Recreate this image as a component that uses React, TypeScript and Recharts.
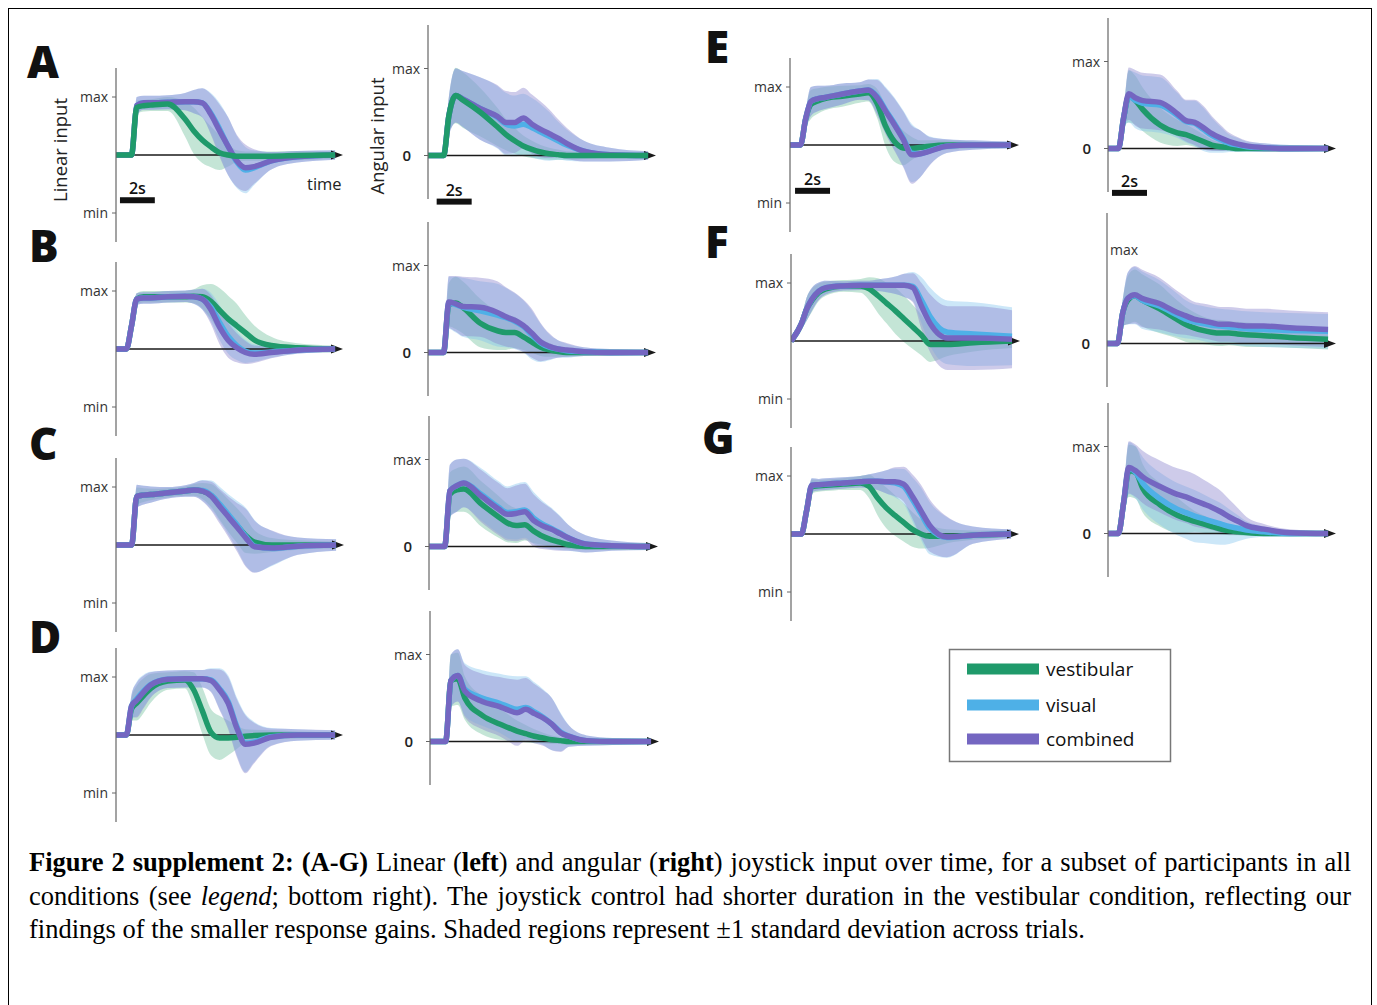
import React from 'react';
import { ComposedChart, Area, Line, XAxis, YAxis, ReferenceLine } from 'recharts';

// shared time grid (seconds)
const T = [0, 0.6, 0.9, 1.2, 1.6, 2, 3, 4, 4.5, 5, 5.5, 6, 6.5, 7, 7.5, 8, 9, 10.5, 12.7];

const SERIES_LABELS = ['vestibular', 'visual', 'combined'];
const PANEL_LETTERS = ['A', 'B', 'C', 'D', 'E', 'F', 'G'];

// ---- A ----
const A_LIN_VES = [0, 0, 0, 0.82, 0.85, 0.86, 0.88, 0.62, 0.42, 0.26, 0.14, 0.04, 0, -0.02, -0.02, -0.02, -0.02, -0.01, 0];
const A_LIN_VES_SD = [0.02, 0.02, 0.02, 0.12, 0.1, 0.1, 0.12, 0.3, 0.4, 0.4, 0.35, 0.3, 0.2, 0.1, 0.08, 0.08, 0.08, 0.08, 0.06];
const A_LIN_VIS = [0, 0, 0, 0.85, 0.9, 0.9, 0.91, 0.92, 0.92, 0.9, 0.72, 0.45, 0.15, -0.12, -0.26, -0.22, -0.1, -0.03, 0];
const A_LIN_COMB = [0, 0, 0, 0.85, 0.9, 0.9, 0.91, 0.92, 0.92, 0.9, 0.7, 0.42, 0.15, -0.1, -0.22, -0.2, -0.1, -0.03, 0];
const A_LIN_COMB_SD = [0.02, 0.02, 0.02, 0.15, 0.12, 0.12, 0.12, 0.15, 0.2, 0.25, 0.35, 0.45, 0.5, 0.45, 0.4, 0.3, 0.15, 0.1, 0.08];

const A_ANG_VES = [0, 0, 0, 0.45, 0.69, 0.64, 0.5, 0.33, 0.24, 0.17, 0.11, 0.07, 0.04, 0.02, 0.01, 0, 0, 0, 0];
const A_ANG_VES_SD = [0.02, 0.02, 0.03, 0.2, 0.32, 0.32, 0.28, 0.22, 0.18, 0.15, 0.12, 0.1, 0.08, 0.07, 0.06, 0.05, 0.04, 0.03, 0.03];
const A_ANG_VIS = [0, 0, 0, 0.45, 0.69, 0.65, 0.54, 0.44, 0.36, 0.34, 0.36, 0.32, 0.27, 0.22, 0.17, 0.12, 0.05, 0.01, 0];
const A_ANG_COMB = [0, 0, 0, 0.45, 0.69, 0.65, 0.54, 0.45, 0.38, 0.38, 0.43, 0.36, 0.3, 0.25, 0.2, 0.14, 0.05, 0.01, 0];
const A_ANG_COMB_SD = [0.02, 0.02, 0.03, 0.22, 0.31, 0.32, 0.36, 0.36, 0.36, 0.35, 0.35, 0.34, 0.32, 0.28, 0.22, 0.18, 0.12, 0.08, 0.05];

// ---- B ----
const B_LIN_VES = [0, 0, 0.4, 0.86, 0.9, 0.9, 0.9, 0.9, 0.91, 0.9, 0.82, 0.67, 0.52, 0.4, 0.28, 0.16, 0.06, 0.02, 0];
const B_LIN_VES_SD = [0.02, 0.02, 0.05, 0.1, 0.1, 0.1, 0.1, 0.1, 0.12, 0.2, 0.3, 0.38, 0.4, 0.38, 0.3, 0.25, 0.15, 0.08, 0.06];
const B_LIN_VIS = [0, 0, 0.4, 0.86, 0.88, 0.88, 0.9, 0.91, 0.9, 0.86, 0.72, 0.46, 0.22, 0.06, -0.04, -0.07, -0.05, -0.02, 0];
const B_LIN_COMB = [0, 0, 0.4, 0.86, 0.88, 0.88, 0.9, 0.91, 0.9, 0.86, 0.68, 0.38, 0.15, 0.02, -0.06, -0.09, -0.06, -0.02, 0];
const B_LIN_COMB_SD = [0.02, 0.02, 0.05, 0.1, 0.1, 0.1, 0.1, 0.1, 0.12, 0.18, 0.25, 0.3, 0.3, 0.25, 0.2, 0.15, 0.1, 0.06, 0.05];

const B_ANG_VES = [0, 0, 0, 0.55, 0.57, 0.52, 0.34, 0.25, 0.23, 0.23, 0.18, 0.12, 0.06, 0.03, 0.01, 0, 0, 0, 0];
const B_ANG_VES_SD = [0.02, 0.02, 0.03, 0.25, 0.3, 0.3, 0.28, 0.22, 0.2, 0.18, 0.15, 0.12, 0.1, 0.08, 0.06, 0.05, 0.04, 0.03, 0.03];
const B_ANG_VIS = [0, 0, 0, 0.57, 0.55, 0.52, 0.48, 0.43, 0.4, 0.36, 0.3, 0.2, 0.11, 0.06, 0.04, 0.02, 0.01, 0, 0];
const B_ANG_COMB = [0, 0, 0, 0.58, 0.56, 0.53, 0.52, 0.46, 0.41, 0.37, 0.31, 0.22, 0.12, 0.07, 0.04, 0.03, 0.01, 0, 0];
const B_ANG_COMB_SD = [0.02, 0.02, 0.03, 0.3, 0.32, 0.34, 0.34, 0.36, 0.34, 0.32, 0.3, 0.28, 0.22, 0.15, 0.1, 0.08, 0.05, 0.04, 0.03];

// ---- C ----
const C_LIN_VES = [0, 0, 0, 0.84, 0.86, 0.87, 0.9, 0.93, 0.95, 0.93, 0.85, 0.68, 0.5, 0.33, 0.16, 0.05, 0, 0, 0];
const C_LIN_VES_SD = [0.02, 0.02, 0.02, 0.15, 0.12, 0.1, 0.08, 0.08, 0.1, 0.14, 0.2, 0.25, 0.28, 0.3, 0.3, 0.2, 0.12, 0.08, 0.06];
const C_LIN_VIS = [0, 0, 0, 0.84, 0.86, 0.87, 0.9, 0.93, 0.95, 0.94, 0.86, 0.7, 0.52, 0.34, 0.14, -0.02, -0.06, -0.02, 0];
const C_LIN_COMB = [0, 0, 0, 0.84, 0.86, 0.87, 0.9, 0.93, 0.95, 0.93, 0.84, 0.66, 0.48, 0.3, 0.12, -0.03, -0.05, -0.02, 0];
const C_LIN_COMB_SD = [0.02, 0.02, 0.02, 0.2, 0.16, 0.14, 0.1, 0.1, 0.12, 0.18, 0.25, 0.3, 0.35, 0.42, 0.5, 0.45, 0.3, 0.15, 0.1];

const C_ANG_VES = [0, 0, 0, 0.6, 0.65, 0.66, 0.49, 0.34, 0.27, 0.24, 0.25, 0.18, 0.12, 0.08, 0.05, 0.02, 0, 0, 0];
const C_ANG_VES_SD = [0.02, 0.02, 0.03, 0.25, 0.25, 0.26, 0.26, 0.24, 0.22, 0.2, 0.18, 0.14, 0.1, 0.08, 0.06, 0.05, 0.04, 0.03, 0.03];
const C_ANG_VIS = [0, 0, 0, 0.64, 0.7, 0.73, 0.6, 0.45, 0.39, 0.4, 0.42, 0.33, 0.26, 0.21, 0.16, 0.1, 0.03, 0.01, 0];
const C_ANG_COMB = [0, 0, 0, 0.64, 0.7, 0.73, 0.58, 0.43, 0.37, 0.38, 0.4, 0.3, 0.24, 0.2, 0.15, 0.1, 0.03, 0.01, 0];
const C_ANG_COMB_SD = [0.02, 0.02, 0.03, 0.3, 0.3, 0.28, 0.3, 0.3, 0.3, 0.32, 0.32, 0.3, 0.27, 0.24, 0.2, 0.15, 0.1, 0.06, 0.04];

// ---- D ----
const D_LIN_VES = [0, 0, 0.45, 0.55, 0.68, 0.8, 0.93, 0.95, 0.78, 0.42, 0.05, -0.05, -0.05, -0.04, -0.02, -0.01, 0, 0, 0];
const D_LIN_VES_SD = [0.02, 0.02, 0.2, 0.3, 0.3, 0.25, 0.15, 0.15, 0.3, 0.4, 0.4, 0.38, 0.3, 0.2, 0.12, 0.1, 0.08, 0.06, 0.05];
const D_LIN_VIS = [0, 0, 0.5, 0.62, 0.76, 0.87, 0.96, 0.97, 0.97, 0.97, 0.95, 0.8, 0.58, 0.15, -0.14, -0.12, -0.03, 0, 0];
const D_LIN_COMB = [0, 0, 0.5, 0.6, 0.74, 0.86, 0.96, 0.97, 0.97, 0.97, 0.94, 0.78, 0.55, 0.12, -0.16, -0.14, -0.04, 0, 0];
const D_LIN_COMB_SD = [0.02, 0.02, 0.2, 0.3, 0.28, 0.22, 0.15, 0.15, 0.15, 0.15, 0.2, 0.35, 0.45, 0.5, 0.5, 0.35, 0.15, 0.1, 0.08];

const D_ANG_VES = [0, 0, 0, 0.7, 0.72, 0.5, 0.3, 0.2, 0.16, 0.12, 0.09, 0.06, 0.04, 0.02, 0.01, 0, 0, 0, 0];
const D_ANG_VES_SD = [0.02, 0.02, 0.03, 0.3, 0.3, 0.25, 0.22, 0.18, 0.15, 0.12, 0.1, 0.08, 0.06, 0.05, 0.04, 0.04, 0.03, 0.03, 0.03];
const D_ANG_VIS = [0, 0, 0, 0.7, 0.76, 0.6, 0.5, 0.44, 0.4, 0.37, 0.39, 0.34, 0.28, 0.2, 0.11, 0.06, 0.01, 0, 0];
const D_ANG_COMB = [0, 0, 0, 0.7, 0.76, 0.58, 0.46, 0.4, 0.36, 0.33, 0.37, 0.32, 0.27, 0.2, 0.1, 0.06, 0.01, 0, 0];
const D_ANG_COMB_SD = [0.02, 0.02, 0.03, 0.3, 0.3, 0.3, 0.32, 0.34, 0.36, 0.38, 0.36, 0.34, 0.32, 0.3, 0.22, 0.12, 0.06, 0.04, 0.03];

// ---- E ----
const E_LIN_VES = [0, 0, 0.45, 0.7, 0.76, 0.8, 0.84, 0.88, 0.9, 0.72, 0.32, 0.06, -0.05, -0.06, -0.04, -0.02, 0, 0, 0];
const E_LIN_VES_SD = [0.02, 0.02, 0.15, 0.25, 0.22, 0.2, 0.18, 0.15, 0.15, 0.25, 0.35, 0.35, 0.3, 0.2, 0.12, 0.1, 0.08, 0.06, 0.05];
const E_LIN_VIS = [0, 0, 0.45, 0.75, 0.8, 0.82, 0.88, 0.93, 0.95, 0.84, 0.6, 0.37, 0.12, -0.14, -0.15, -0.1, -0.02, 0, 0];
const E_LIN_COMB = [0, 0, 0.45, 0.75, 0.8, 0.82, 0.88, 0.93, 0.95, 0.82, 0.58, 0.35, 0.1, -0.17, -0.15, -0.11, -0.02, 0, 0];
const E_LIN_COMB_SD = [0.02, 0.02, 0.15, 0.25, 0.22, 0.2, 0.18, 0.15, 0.18, 0.3, 0.4, 0.45, 0.48, 0.5, 0.4, 0.25, 0.12, 0.08, 0.06];

const E_ANG_VES = [0, 0, 0.35, 0.6, 0.55, 0.45, 0.27, 0.18, 0.16, 0.12, 0.08, 0.04, 0.02, 0.01, 0, 0, 0, 0, 0];
const E_ANG_VES_SD = [0.02, 0.02, 0.1, 0.3, 0.28, 0.25, 0.2, 0.15, 0.12, 0.1, 0.08, 0.06, 0.05, 0.04, 0.04, 0.03, 0.03, 0.03, 0.03];
const E_ANG_VIS = [0, 0, 0.35, 0.6, 0.55, 0.52, 0.5, 0.38, 0.31, 0.29, 0.22, 0.15, 0.1, 0.06, 0.04, 0.02, 0.01, 0, 0];
const E_ANG_COMB = [0, 0, 0.35, 0.63, 0.58, 0.55, 0.53, 0.4, 0.32, 0.3, 0.24, 0.17, 0.12, 0.08, 0.05, 0.03, 0.01, 0, 0];
const E_ANG_COMB_SD = [0.02, 0.02, 0.1, 0.3, 0.32, 0.32, 0.32, 0.26, 0.24, 0.26, 0.25, 0.2, 0.15, 0.1, 0.08, 0.06, 0.05, 0.04, 0.03];

// ---- F ----
const F_LIN_VES = [0, 0.3, 0.55, 0.7, 0.84, 0.9, 0.95, 0.95, 0.9, 0.78, 0.65, 0.52, 0.38, 0.24, 0.1, -0.06, -0.06, -0.03, 0];
const F_LIN_VES_SD = [0.02, 0.1, 0.2, 0.2, 0.15, 0.12, 0.1, 0.12, 0.2, 0.3, 0.35, 0.4, 0.4, 0.38, 0.35, 0.3, 0.2, 0.15, 0.12];
const F_LIN_VIS = [0, 0.3, 0.55, 0.72, 0.86, 0.92, 0.95, 0.96, 0.96, 0.96, 0.96, 0.96, 0.96, 0.94, 0.7, 0.42, 0.15, 0.12, 0.08];
const F_LIN_COMB = [0, 0.3, 0.55, 0.72, 0.86, 0.92, 0.95, 0.96, 0.96, 0.96, 0.96, 0.96, 0.96, 0.92, 0.6, 0.3, 0.05, 0.05, 0.03];
const F_LIN_COMB_SD = [0.02, 0.1, 0.2, 0.2, 0.15, 0.12, 0.08, 0.08, 0.08, 0.1, 0.12, 0.15, 0.2, 0.25, 0.4, 0.5, 0.55, 0.55, 0.5];

const F_ANG_VES = [0, 0, 0.35, 0.5, 0.55, 0.5, 0.4, 0.28, 0.22, 0.18, 0.15, 0.13, 0.12, 0.12, 0.11, 0.1, 0.09, 0.07, 0.05];
const F_ANG_VES_SD = [0.02, 0.02, 0.15, 0.28, 0.3, 0.3, 0.28, 0.22, 0.2, 0.18, 0.16, 0.15, 0.15, 0.14, 0.14, 0.14, 0.13, 0.12, 0.12];
const F_ANG_VIS = [0, 0, 0.35, 0.52, 0.55, 0.5, 0.43, 0.33, 0.28, 0.25, 0.23, 0.21, 0.2, 0.19, 0.18, 0.17, 0.16, 0.15, 0.14];
const F_ANG_COMB = [0, 0, 0.35, 0.52, 0.56, 0.52, 0.46, 0.36, 0.32, 0.28, 0.26, 0.24, 0.22, 0.22, 0.21, 0.2, 0.2, 0.18, 0.16];
const F_ANG_COMB_SD = [0.02, 0.02, 0.15, 0.3, 0.33, 0.33, 0.3, 0.25, 0.22, 0.2, 0.2, 0.2, 0.2, 0.2, 0.2, 0.2, 0.2, 0.2, 0.2];

// ---- G ----
const G_LIN_VES = [0, 0, 0.4, 0.82, 0.83, 0.84, 0.86, 0.88, 0.82, 0.62, 0.45, 0.32, 0.2, 0.08, 0, -0.04, -0.04, -0.02, 0];
const G_LIN_VES_SD = [0.02, 0.02, 0.08, 0.12, 0.1, 0.1, 0.1, 0.12, 0.2, 0.3, 0.35, 0.35, 0.33, 0.3, 0.25, 0.2, 0.12, 0.08, 0.06];
const G_LIN_VIS = [0, 0, 0.4, 0.84, 0.85, 0.86, 0.88, 0.9, 0.91, 0.91, 0.9, 0.88, 0.82, 0.6, 0.35, 0.1, -0.06, -0.02, 0];
const G_LIN_COMB = [0, 0, 0.4, 0.84, 0.85, 0.86, 0.88, 0.9, 0.91, 0.91, 0.9, 0.9, 0.86, 0.65, 0.4, 0.15, -0.05, -0.02, 0];
const G_LIN_COMB_SD = [0.02, 0.02, 0.08, 0.12, 0.1, 0.1, 0.1, 0.1, 0.12, 0.15, 0.2, 0.25, 0.3, 0.38, 0.45, 0.45, 0.35, 0.15, 0.08];

const G_ANG_VES = [0, 0, 0.35, 0.72, 0.7, 0.52, 0.33, 0.21, 0.17, 0.14, 0.11, 0.08, 0.05, 0.03, 0.02, 0.01, 0, 0, 0];
const G_ANG_VES_SD = [0.02, 0.02, 0.15, 0.3, 0.3, 0.28, 0.25, 0.2, 0.16, 0.12, 0.1, 0.08, 0.06, 0.05, 0.04, 0.04, 0.03, 0.03, 0.03];
const G_ANG_VIS = [0, 0, 0.35, 0.75, 0.7, 0.58, 0.4, 0.28, 0.24, 0.2, 0.17, 0.14, 0.11, 0.08, 0.06, 0.04, 0.02, 0, 0];
const G_ANG_COMB = [0, 0, 0.35, 0.76, 0.72, 0.65, 0.54, 0.45, 0.42, 0.38, 0.34, 0.3, 0.25, 0.19, 0.14, 0.09, 0.05, 0.01, 0];
const G_ANG_COMB_SD = [0.02, 0.02, 0.15, 0.3, 0.3, 0.3, 0.3, 0.3, 0.3, 0.3, 0.28, 0.26, 0.24, 0.2, 0.15, 0.1, 0.06, 0.04, 0.03];

const LINE_COLORS = { ves: '#1f9a6b', vis: '#4eb0e7', comb: '#7466c1' };
const BAND_COLORS = { ves: '#6cbf98', vis: '#7fc4ee', comb: '#8b82cd' };

type Cfg = {
  kind: 'lin' | 'ang';
  axisX: number;
  zero: number;
  plotW: number;
  ves: number[];
  vesSd: number[];
  vis: number[];
  comb: number[];
  combSd: number[];
  greenTop?: boolean;
  bar?: { y: number; x1: number; x2: number };
  maxRight?: boolean;
};

const PANELS: Cfg[] = [
  { kind: 'lin', axisX: 116, zero: 155, plotW: 226, ves: A_LIN_VES, vesSd: A_LIN_VES_SD, vis: A_LIN_VIS, comb: A_LIN_COMB, combSd: A_LIN_COMB_SD, greenTop: true, bar: { y: -0.78, x1: 0.23, x2: 2.25 } },
  { kind: 'ang', axisX: 428, zero: 155, plotW: 227, ves: A_ANG_VES, vesSd: A_ANG_VES_SD, vis: A_ANG_VIS, comb: A_ANG_COMB, combSd: A_ANG_COMB_SD, greenTop: true, bar: { y: -0.53, x1: 0.5, x2: 2.52 } },
  { kind: 'lin', axisX: 116, zero: 349, plotW: 226, ves: B_LIN_VES, vesSd: B_LIN_VES_SD, vis: B_LIN_VIS, comb: B_LIN_COMB, combSd: B_LIN_COMB_SD },
  { kind: 'ang', axisX: 428, zero: 352, plotW: 227, ves: B_ANG_VES, vesSd: B_ANG_VES_SD, vis: B_ANG_VIS, comb: B_ANG_COMB, combSd: B_ANG_COMB_SD },
  { kind: 'lin', axisX: 116, zero: 545, plotW: 227, ves: C_LIN_VES, vesSd: C_LIN_VES_SD, vis: C_LIN_VIS, comb: C_LIN_COMB, combSd: C_LIN_COMB_SD },
  { kind: 'ang', axisX: 429, zero: 546, plotW: 228, ves: C_ANG_VES, vesSd: C_ANG_VES_SD, vis: C_ANG_VIS, comb: C_ANG_COMB, combSd: C_ANG_COMB_SD },
  { kind: 'lin', axisX: 116, zero: 735, plotW: 226, ves: D_LIN_VES, vesSd: D_LIN_VES_SD, vis: D_LIN_VIS, comb: D_LIN_COMB, combSd: D_LIN_COMB_SD },
  { kind: 'ang', axisX: 430, zero: 741, plotW: 228, ves: D_ANG_VES, vesSd: D_ANG_VES_SD, vis: D_ANG_VIS, comb: D_ANG_COMB, combSd: D_ANG_COMB_SD },
  { kind: 'lin', axisX: 790, zero: 145, plotW: 228, ves: E_LIN_VES, vesSd: E_LIN_VES_SD, vis: E_LIN_VIS, comb: E_LIN_COMB, combSd: E_LIN_COMB_SD, bar: { y: -0.79, x1: 0.29, x2: 2.3 } },
  { kind: 'ang', axisX: 1108, zero: 148, plotW: 227, ves: E_ANG_VES, vesSd: E_ANG_VES_SD, vis: E_ANG_VIS, comb: E_ANG_COMB, combSd: E_ANG_COMB_SD, bar: { y: -0.51, x1: 0.23, x2: 2.25 } },
  { kind: 'lin', axisX: 791, zero: 341, plotW: 228, ves: F_LIN_VES, vesSd: F_LIN_VES_SD, vis: F_LIN_VIS, comb: F_LIN_COMB, combSd: F_LIN_COMB_SD },
  { kind: 'ang', axisX: 1107, zero: 343, plotW: 228, ves: F_ANG_VES, vesSd: F_ANG_VES_SD, vis: F_ANG_VIS, comb: F_ANG_COMB, combSd: F_ANG_COMB_SD, maxRight: true },
  { kind: 'lin', axisX: 791, zero: 534, plotW: 227, ves: G_LIN_VES, vesSd: G_LIN_VES_SD, vis: G_LIN_VIS, comb: G_LIN_COMB, combSd: G_LIN_COMB_SD },
  { kind: 'ang', axisX: 1108, zero: 533, plotW: 227, ves: G_ANG_VES, vesSd: G_ANG_VES_SD, vis: G_ANG_VIS, comb: G_ANG_COMB, combSd: G_ANG_COMB_SD },
];

const X_END = 13.1;
const YW = 50;
const MT = 6;
const MB = 16;
const MR = 14;
const LABEL_FONT = '"Open Sans", "DejaVu Sans", sans-serif';

const ArrowShape = (p: any) => {
  const { x1, y1, x2 } = p;
  return (
    <g>
      <line x1={x1} y1={y1} x2={x2 - 6} y2={y1} stroke="#1a1a1a" strokeWidth={1.6} />
      <polygon points={`${x2 - 11},${y1 - 4.5} ${x2 + 1},${y1} ${x2 - 11},${y1 + 4.5}`} fill="#1a1a1a" />
    </g>
  );
};

const BarShape = (p: any) => {
  const { x1, y1, x2 } = p;
  return (
    <g>
      <rect x={x1} y={y1 - 3} width={x2 - x1} height={6} fill="#111" />
      <text x={(x1 + x2) / 2} y={y1 - 6} textAnchor="middle" fontSize={16} fontWeight={600} fontFamily={LABEL_FONT} fill="#111">2s</text>
    </g>
  );
};

function Panel({ c }: { c: Cfg }) {
  const lin = c.kind === 'lin';
  const unit = lin ? 58 : 87;
  const domain: [number, number] = lin ? [-1.5, 1.5] : [-0.5, 1.5];
  const plotH = 174;
  const top = c.zero - 1.5 * unit;
  const rows = T.map((t, i) => ({
    t,
    ves: c.ves[i],
    vis: c.vis[i],
    comb: c.comb[i],
    vesB: [c.ves[i] - c.vesSd[i], c.ves[i] + c.vesSd[i]],
    visB: [c.vis[i] - c.combSd[i], c.vis[i] + c.combSd[i]],
    combB: [c.comb[i] - c.combSd[i], c.comb[i] + c.combSd[i]],
  }));
  const ticks = lin ? [-1, 1] : c.maxRight ? [0, 1.08] : [0, 1];
  const Tick = (p: any) => {
    const v = p.payload.value;
    const label = v > 0.5 ? 'max' : v < -0.5 ? 'min' : '0';
    if (c.maxRight && v > 0.5) {
      return (
        <text x={YW + 3} y={p.y} dy={5} textAnchor="start" fontSize={14} fontFamily={LABEL_FONT} fill="#333">{label}</text>
      );
    }
    if (label === '0') {
      return (
        <text x={p.x - 9} y={p.y} dy={5} textAnchor="end" fontSize={15} fontWeight={600} fontFamily={LABEL_FONT} fill="#222">0</text>
      );
    }
    return (
      <text x={p.x} y={p.y} dy={5} textAnchor="end" fontSize={14} fontFamily={LABEL_FONT} fill="#333">{label}</text>
    );
  };
  const lineOrder = c.greenTop ? ['vis', 'comb', 'ves'] : ['ves', 'vis', 'comb'];
  return (
    <div style={{ position: 'absolute', left: c.axisX - YW, top: top - MT }}>
      <ComposedChart width={YW + c.plotW + MR} height={MT + plotH + MB} data={rows} margin={{ top: MT, right: MR, bottom: MB, left: 0 }}>
        <XAxis type="number" dataKey="t" domain={[0, X_END]} hide allowDataOverflow />
        <YAxis
          type="number"
          domain={domain}
          ticks={ticks}
          interval={0}
          width={YW}
          allowDataOverflow
          axisLine={{ stroke: '#666', strokeWidth: 1.2 }}
          tickLine={c.maxRight ? false : { stroke: '#666' }}
          tickSize={4}
          tickMargin={4}
          tick={Tick}
        />
        <Area type="monotone" dataKey="vesB" stroke="none" fill={BAND_COLORS.ves} fillOpacity={0.4} isAnimationActive={false} activeDot={false} />
        <Area type="monotone" dataKey="visB" stroke="none" fill={BAND_COLORS.vis} fillOpacity={0.4} isAnimationActive={false} activeDot={false} />
        <Area type="monotone" dataKey="combB" stroke="none" fill={BAND_COLORS.comb} fillOpacity={0.42} isAnimationActive={false} activeDot={false} />
        <ReferenceLine segment={[{ x: 0, y: 0 }, { x: X_END, y: 0 }]} ifOverflow="visible" shape={ArrowShape} />
        {lineOrder.map((k) => (
          <Line
            key={k}
            type="monotone"
            dataKey={k}
            stroke={(LINE_COLORS as any)[k]}
            strokeWidth={5.5}
            strokeLinejoin="round"
            dot={false}
            activeDot={false}
            isAnimationActive={false}
          />
        ))}
        {c.bar ? (
          <ReferenceLine segment={[{ x: c.bar.x1, y: c.bar.y }, { x: c.bar.x2, y: c.bar.y }]} ifOverflow="visible" shape={BarShape} />
        ) : null}
      </ComposedChart>
    </div>
  );
}

const LETTER_POS = [
  [27, 78], [29, 262], [29, 460], [29, 653], [705, 63], [705, 258], [702, 454],
];

function Overlay() {
  const legendY = [669, 705, 739];
  const keys = ['ves', 'vis', 'comb'];
  return (
    <svg width={1377} height={1005} style={{ position: 'absolute', left: 0, top: 0, pointerEvents: 'none' }}>
      {PANEL_LETTERS.map((l, i) => (
        <text key={l} x={LETTER_POS[i][0]} y={LETTER_POS[i][1]} fontSize={44} fontWeight={800} fontFamily={LABEL_FONT} fill="#111">{l}</text>
      ))}
      <text transform="translate(67,150) rotate(-90)" textAnchor="middle" fontSize={18.5} fontFamily={LABEL_FONT} fill="#222">Linear input</text>
      <text transform="translate(384,136) rotate(-90)" textAnchor="middle" fontSize={18.5} fontFamily={LABEL_FONT} fill="#222">Angular input</text>
      <text x={307} y={190} fontSize={16.5} fontFamily={LABEL_FONT} fill="#222">time</text>
      <rect x={949.5} y={649.5} width={221} height={112} fill="none" stroke="#777" strokeWidth={1.5} />
      {SERIES_LABELS.map((s, i) => (
        <g key={s}>
          <rect x={967} y={legendY[i] - 5.5} width={72} height={11} fill={(LINE_COLORS as any)[keys[i]]} />
          <text x={1046} y={legendY[i] + 7} fontSize={19} fontFamily={LABEL_FONT} fill="#111">{s}</text>
        </g>
      ))}
    </svg>
  );
}

const CAPTION_STYLE: React.CSSProperties = {
  fontFamily: '"Liberation Serif", "Times New Roman", serif',
  fontSize: 26.5,
  lineHeight: '33.5px',
  color: '#000',
  whiteSpace: 'nowrap',
};

const JUSTIFIED: React.CSSProperties = {
  ...CAPTION_STYLE,
  whiteSpace: 'normal',
  textAlign: 'justify',
  textAlignLast: 'justify',
  wordSpacing: '-3px',
};

export default function App() {
  return (
    <div style={{ position: 'absolute', left: 0, top: 0, width: 1377, height: 1005, overflow: 'hidden', background: '#fff' }}>
      <div style={{ position: 'absolute', left: 8, top: 8, width: 1362, height: 1010, border: '1.5px solid #000' }} />
      {PANELS.map((c, i) => (
        <Panel key={i} c={c} />
      ))}
      <Overlay />
      <div style={{ position: 'absolute', left: 29, top: 846, width: 1322 }}>
        <div style={JUSTIFIED}>
          <b>Figure 2 supplement 2: (A-G)</b> Linear (<b>left</b>) and angular (<b>right</b>) joystick input over time, for a subset of participants in all
        </div>
        <div style={JUSTIFIED}>
          conditions (see <i>legend</i>; bottom right). The joystick control had shorter duration in the vestibular condition, reflecting our
        </div>
        <div style={CAPTION_STYLE}>
          findings of the smaller response gains. Shaded regions represent ±1 standard deviation across trials.
        </div>
      </div>
    </div>
  );
}
